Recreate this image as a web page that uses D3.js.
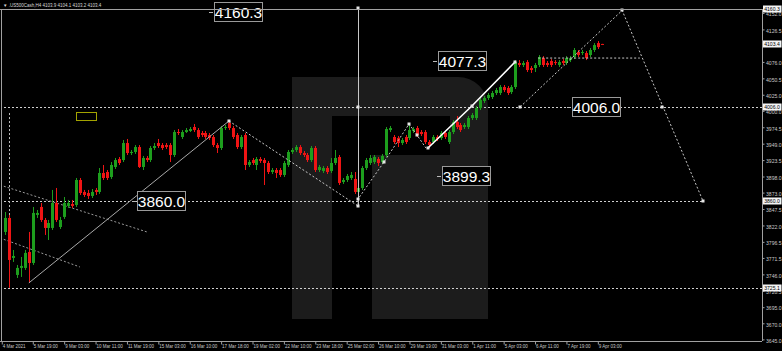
<!DOCTYPE html>
<html><head><meta charset="utf-8">
<script src="https://cdn.jsdelivr.net/npm/d3@7"></script>
<style>html,body{margin:0;padding:0;background:#000;overflow:hidden}</style>
</head><body><svg id="c" width="782" height="351"></svg>
<script>
// ---------- DATA ----------
const opens=[3811.9,3833.6,3771.5,3745.1,3756.0,3756.0,3780.8,3763.7,3838.3,3850.7,
3830.5,3818.1,3818.1,3856.9,3819.6,3835.2,3852.2,3855.3,3853.8,3892.6,
3874.0,3872.4,3867.8,3877.1,3874.0,3903.5,3905.0,3897.3,3912.8,3925.2,
3923.6,3950.0,3934.5,3936.1,3943.8,3912.8,3926.8,3923.6,3942.3,3950.0,
3946.9,3946.9,3946.9,3931.4,3967.1,3959.4,3967.1,3968.7,3974.9,3970.2,
3965.6,3965.6,3962.5,3959.4,3946.9,3942.3,3973.3,3981.1,3973.3,3962.5,
3943.8,3962.5,3915.9,3923.6,3915.9,3925.2,3923.6,3919.0,3905.0,3908.1,
3908.1,3900.4,3915.9,3936.1,3939.2,3943.8,3934.5,3931.4,3923.6,3942.3,
3908.1,3906.6,3911.2,3906.6,3919.0,3928.3,3889.5,3892.6,3895.7,3894.2,
3874.0,3880.2,3911.2,3919.0,3920.5,3925.2,3920.5,3931.4,3970.2,3959.4,
3957.8,3950.0,3959.4,3957.8,3968.7,3973.3,3967.1,3967.1,3951.6,3951.6,
3959.4,3957.8,3965.6,3951.6,3967.1,3982.7,3978.0,3974.9,3974.9,3988.9,
3988.9,4004.4,4015.3,4019.9,4021.5,4027.7,4027.7,4037.0,4035.5,4029.2,
4037.0,4074.3,4071.2,4075.8,4066.5,4066.5,4071.2,4082.0,4074.3,4077.4,
4075.8,4071.2,4077.4,4074.3,4078.9,4083.6,4091.4,4089.8,4089.8,4086.7,
4094.5,4105.3,4103.9];
const closes=[3833.6,3768.4,3774.6,3756.0,3759.1,3779.3,3763.7,3841.4,3841.4,3830.5,
3818.1,3825.8,3856.9,3830.5,3830.5,3856.9,3856.9,3852.2,3892.6,3872.4,
3869.3,3867.8,3874.0,3874.0,3903.5,3895.7,3895.7,3915.9,3923.6,3919.0,
3950.0,3934.5,3936.1,3943.8,3912.8,3926.8,3923.6,3942.3,3945.4,3945.4,
3942.3,3943.8,3931.4,3967.1,3965.6,3967.1,3970.2,3971.8,3970.2,3959.4,
3962.5,3959.4,3957.8,3946.9,3942.3,3973.3,3974.9,3973.3,3959.4,3943.8,
3959.4,3915.9,3920.5,3919.0,3925.2,3922.1,3919.0,3905.0,3908.1,3903.5,
3900.4,3919.0,3936.1,3939.2,3943.8,3934.5,3931.4,3923.6,3942.3,3908.1,
3912.8,3911.2,3905.0,3919.0,3926.8,3888.0,3892.6,3898.8,3900.4,3874.0,
3880.2,3911.2,3923.6,3926.8,3928.3,3919.0,3929.9,3971.8,3973.3,3951.6,
3950.0,3954.7,3951.6,3970.2,3971.8,3962.5,3964.0,3951.6,3946.9,3959.4,
3956.3,3965.6,3959.4,3967.1,3982.7,3974.9,3970.2,3978.0,3988.9,3993.5,
4004.4,4016.8,4019.9,4024.6,4027.7,4032.3,4037.0,4032.3,4027.7,4037.0,
4075.8,4071.2,4074.3,4063.4,4063.4,4071.2,4083.6,4071.2,4071.2,4071.2,
4074.3,4075.8,4074.3,4082.0,4082.0,4094.5,4086.7,4091.4,4082.0,4094.5,
4102.2,4099.1,4103.4];
const highs=[3842.9,3838.3,3783.9,3760.6,3773.0,3783.9,3811.9,3850.7,3846.0,3856.9,
3833.6,3830.5,3877.1,3880.2,3835.2,3866.2,3861.6,3861.6,3895.7,3895.7,
3877.1,3877.1,3878.6,3880.2,3911.2,3915.9,3908.1,3920.5,3926.8,3928.3,
3954.7,3956.3,3939.2,3946.9,3946.9,3929.9,3929.9,3945.4,3950.0,3956.3,
3950.0,3950.0,3950.0,3970.2,3971.8,3970.2,3973.3,3974.9,3979.6,3973.3,
3968.7,3968.7,3965.6,3962.5,3950.0,3976.5,3978.0,3984.2,3976.5,3965.6,
3962.5,3965.6,3923.6,3926.8,3928.3,3928.3,3926.8,3922.1,3911.2,3911.2,
3911.2,3922.1,3939.2,3942.3,3946.9,3946.9,3937.7,3934.5,3945.4,3945.4,
3915.9,3914.3,3914.3,3926.8,3939.2,3931.4,3895.7,3901.9,3905.0,3905.0,
3884.8,3914.3,3926.8,3931.4,3931.4,3928.3,3933.0,3974.9,3976.5,3962.5,
3961.0,3957.8,3962.5,3979.6,3974.9,3976.5,3970.2,3970.2,3954.7,3962.5,
3962.5,3968.7,3968.7,3970.2,3985.8,3992.0,3981.1,3981.1,3992.0,3996.6,
4007.5,4019.9,4023.0,4027.7,4030.8,4035.5,4040.1,4040.1,4038.6,4040.1,
4078.9,4078.9,4077.4,4078.9,4069.6,4074.3,4086.7,4085.1,4077.4,4080.5,
4078.9,4078.9,4080.5,4085.1,4085.1,4097.6,4094.5,4094.5,4092.9,4097.6,
4105.3,4108.4,4104.1];
const lows=[3807.2,3725.1,3765.3,3740.4,3742.0,3752.9,3732.7,3760.6,3833.6,3827.4,
3807.2,3799.4,3815.0,3827.4,3816.5,3832.1,3849.1,3849.1,3850.7,3869.3,
3866.2,3863.1,3864.6,3869.3,3870.9,3892.6,3892.6,3894.2,3909.7,3915.9,
3920.5,3931.4,3931.4,3933.0,3911.2,3908.1,3920.5,3920.5,3939.2,3942.3,
3939.2,3940.7,3920.5,3928.3,3962.5,3956.3,3965.6,3967.1,3967.1,3956.3,
3959.4,3956.3,3954.7,3943.8,3934.5,3939.2,3970.2,3970.2,3956.3,3940.7,
3940.7,3908.1,3912.8,3915.9,3908.1,3919.0,3884.8,3901.9,3901.9,3895.7,
3897.3,3897.3,3912.8,3933.0,3936.1,3931.4,3928.3,3920.5,3920.5,3905.0,
3905.0,3903.5,3901.9,3903.5,3915.9,3884.8,3886.4,3889.5,3892.6,3870.9,
3860.0,3877.1,3908.1,3915.9,3917.4,3914.3,3917.4,3928.3,3967.1,3948.5,
3943.8,3946.9,3948.5,3954.7,3965.6,3959.4,3960.9,3948.5,3942.3,3948.5,
3953.2,3954.7,3956.3,3948.5,3964.0,3971.8,3967.1,3971.8,3971.8,3985.8,
3985.8,4001.3,4012.2,4016.8,4018.4,4024.6,4024.6,4029.2,4024.6,4026.1,
4033.9,4068.1,4068.1,4060.3,4058.8,4060.3,4068.1,4068.1,4068.1,4068.1,
4071.2,4068.1,4071.2,4071.2,4075.8,4080.5,4083.6,4086.7,4078.9,4083.6,
4091.4,4096.0,4103.2];

const timeLabels=["4 Mar 2021","5 Mar 19:00","9 Mar 03:00","10 Mar 11:00","11 Mar 19:00","15 Mar 03:00","16 Mar 10:00","17 Mar 18:00","19 Mar 02:00","22 Mar 10:00","23 Mar 18:00","25 Mar 02:00","26 Mar 10:00","29 Mar 19:00","31 Mar 03:00","1 Apr 11:00","5 Apr 03:00","6 Apr 11:00","7 Apr 19:00","9 Apr 03:00"];
const timeLabelIdx=[-0.9,7,15,23,31,39,47,55,63,71,79,87,95,103,111,119,127,135,143,151];
const priceTicks=[4152.0,4126.5,4076.0,4050.5,4025.0,4000.0,3974.5,3949.0,3923.5,3898.0,3873.0,3847.5,3822.0,3796.5,3771.5,3746.0,3720.5,3695.0,3670.0,3645.0];
const markedPrices=[4160.3,4103.4,4006.0,3860.0,3725.1];
const title="\u25BC .US500Cash,H4  4103.9 4104.1 4103.2 4103.4";

// drawn objects in (bar index, price)
const hLevels=[{p:4006.0,i0:-2,i1:193},{p:3860.0,i0:-2,i1:177.8},{p:3725.1,i0:-2,i1:193}];
const trendSolid=[[6.0,3732.7],[57.0,3984.2]];
const dotA=[[-1.35,3884.8],[36.1,3811.9]];
const dotB=[[-1.35,3802.5],[19.0,3757.5]];
const zigzag=[[57.0,3984.2],[89.9,3852.2],[89.9,3863.1],[96.5,3920.5],[102.9,3979.6],[104.9,3962.5],[107.2,3942.3]];
const whiteLine=[[107.7,3942.3],[118.9,4007.5],[129.9,4075.8]];
const projection=[[131.2,4006.0],[157.2,4156.0],[177.8,3860.0]];
const shortDash=[[135.8,4082.0],[161.7,4082.0]];
const vLine={i:89.9,p0:4160.3,p1:3852.2};
const vDot={i:0.95,p0:3996.6,p1:3725.1};
const markers=[[89.9,4160.3],[89.9,4006.0],[89.9,3852.2],[89.9,3863.1],[57.0,3984.2],[96.5,3920.5],[102.9,3979.6],[104.9,3962.5],[107.7,3942.3],[118.9,4007.5],[129.9,4075.8],[131.2,4006.0],[157.2,4156.0],[167.4,4006.0],[177.8,3860.0]];
const textLabels=[{t:"4160.3",i:53.2,p:4154.3},{t:"4077.3",i:110.3,p:4077.3},{t:"4006.0",i:144.4,p:4006.0},{t:"3899.3",i:111.3,p:3899.3},{t:"3860.0",i:33.6,p:3860.0}];
const yellowBox={i0:18.0,i1:23.1,p0:3998.2,p1:3985.8};

// ---------- DRAW ----------
const W=782,H=351, topY=9, bottomY=341, axisX=762;
const FONT="Liberation Sans, Arial, sans-serif";
const svg=d3.select("#c");
const N=opens.length;
const x=d3.scaleLinear().domain([0,N-1]).range([5.3,5.3+3.924*(N-1)]);
const y=d3.scaleLinear().domain([3642.5,4158.2]).range([bottomY,topY]);

svg.append("rect").attr("width",W).attr("height",H).attr("fill","#000");

// watermark logo
svg.append("path")
 .attr("d","M292,77 H458 A30,30 0 0 1 488,107 V319 H372 V155 H450 V116 H332 V319 H292 Z")
 .attr("fill","#1c1c1c");

svg.append("clipPath").attr("id","pl").append("rect").attr("x",1).attr("y",topY).attr("width",axisX-1).attr("height",bottomY-topY);
const plot=svg.append("g").attr("clip-path","url(#pl)");

// horizontal levels
hLevels.forEach(h=>{
  plot.append("line").attr("x1",Math.max(0,x(h.i0))).attr("x2",Math.min(axisX,x(h.i1)))
   .attr("y1",Math.round(y(h.p))+0.5).attr("y2",Math.round(y(h.p))+0.5)
   .attr("stroke","#cfcfcf").attr("stroke-dasharray","2,2").attr("stroke-width",1);
});
// vertical dotted
plot.append("line").attr("x1",Math.round(x(vDot.i))+0.5).attr("x2",Math.round(x(vDot.i))+0.5)
 .attr("y1",y(vDot.p0)).attr("y2",y(vDot.p1)).attr("stroke","#bdbdbd").attr("stroke-dasharray","2,2");

const line=d3.line().x(d=>x(d[0])).y(d=>y(d[1]));
plot.append("path").attr("d",line(dotA)).attr("fill","none").attr("stroke","#9a9a9a").attr("stroke-dasharray","2,2");
plot.append("path").attr("d",line(dotB)).attr("fill","none").attr("stroke","#9a9a9a").attr("stroke-dasharray","2,2");

// yellow box
svg.append("rect").attr("x",Math.round(x(yellowBox.i0))+0.5).attr("y",Math.round(y(yellowBox.p0))+0.5)
 .attr("width",Math.round(x(yellowBox.i1)-x(yellowBox.i0))).attr("height",Math.round(y(yellowBox.p1)-y(yellowBox.p0)))
 .attr("fill","none").attr("stroke","#a3a300").attr("stroke-width",1);

// candles
const bull="#1d9e1d", bear="#f01414";
const cg=plot.append("g");
for(let i=0;i<N;i++){
  const cx=Math.round(x(i));
  const col=closes[i]>=opens[i]?bull:bear;
  cg.append("line").attr("x1",cx+0.5).attr("x2",cx+0.5).attr("y1",y(highs[i])).attr("y2",y(lows[i])).attr("stroke",col).attr("stroke-width",1);
  const yt=y(Math.max(opens[i],closes[i])), yb=y(Math.min(opens[i],closes[i]));
  cg.append("rect").attr("x",cx-1).attr("y",yt).attr("width",3).attr("height",Math.max(1,yb-yt)).attr("fill",col);
}

// trend lines
plot.append("path").attr("d",line(trendSolid)).attr("fill","none").attr("stroke","#a8a8a8").attr("stroke-width",1);
plot.append("path").attr("d",line(zigzag)).attr("fill","none").attr("stroke","#c8c8c8").attr("stroke-dasharray","2,2");
plot.append("path").attr("d",line(projection)).attr("fill","none").attr("stroke","#c8c8c8").attr("stroke-dasharray","2,2");
plot.append("path").attr("d",line(shortDash)).attr("fill","none").attr("stroke","#c8c8c8").attr("stroke-dasharray","2,2");
plot.append("line").attr("x1",Math.round(x(vLine.i))+0.5).attr("x2",Math.round(x(vLine.i))+0.5)
 .attr("y1",y(vLine.p0)).attr("y2",y(vLine.p1)).attr("stroke","#c8c8c8").attr("stroke-width",1);
plot.append("path").attr("d",line(whiteLine)).attr("fill","none").attr("stroke","#ffffff").attr("stroke-width",1.6);

// markers
svg.append("g").selectAll("rect").data(markers).join("rect")
 .attr("x",d=>Math.round(x(d[0]))-1.5).attr("y",d=>Math.round(y(d[1]))-1.5)
 .attr("width",3).attr("height",3).attr("fill","#e6e6e6");

// text labels
const tl=svg.append("g").selectAll("g").data(textLabels).join("g")
 .attr("transform",d=>`translate(${Math.round(x(d.i))},${Math.round(y(d.p))})`);
tl.append("line").attr("x1",-5).attr("x2",-1).attr("y1",0.5).attr("y2",0.5).attr("stroke","#bbb");
tl.append("rect").attr("x",0.5).attr("y",-9.5).attr("width",48).attr("height",19).attr("fill","#000").attr("stroke","#9a9a9a");
tl.append("text").attr("x",24.5).attr("y",5.5).attr("text-anchor","middle")
 .attr("font-family",FONT).attr("font-size",15.5).attr("fill","#fff").text(d=>d.t);

// frame
svg.append("line").attr("x1",0).attr("x2",axisX).attr("y1",topY+0.5).attr("y2",topY+0.5).attr("stroke","#a0a0a0");
svg.append("line").attr("x1",1.5).attr("x2",1.5).attr("y1",topY).attr("y2",bottomY).attr("stroke","#a0a0a0");
svg.append("line").attr("x1",0).attr("x2",axisX).attr("y1",bottomY+0.5).attr("y2",bottomY+0.5).attr("stroke","#a0a0a0");

// right axis
const ya=svg.append("g").attr("transform",`translate(${axisX+0.5},0)`)
 .call(d3.axisRight(y).tickValues(priceTicks).tickSize(2).tickSizeOuter(0).tickFormat(d3.format(".1f")));
ya.select(".domain").attr("stroke","#a0a0a0").attr("d",`M0,${topY}V${bottomY}`);
ya.selectAll(".tick line").attr("stroke","#a0a0a0");
ya.selectAll(".tick text").attr("x",3.5).attr("dy","0.7em").attr("y",-0.8).attr("fill","#c8c8c8")
 .attr("font-family",FONT).attr("font-size",5.1);
// marked prices on axis
const mp=svg.append("g").selectAll("g").data(markedPrices).join("g")
 .attr("transform",d=>`translate(${axisX+1},${Math.max(topY,Math.round(y(d)))})`);
mp.append("rect").attr("x",0).attr("y",-3.5).attr("width",18.5).attr("height",7).attr("fill","#f4f4f4");
mp.append("text").attr("x",1.2).attr("y",2).attr("font-family",FONT).attr("font-size",5.1).attr("fill","#000").text(d=>d.toFixed(1));

// bottom axis
const xa=svg.append("g").attr("transform",`translate(0,${bottomY+0.5})`)
 .call(d3.axisBottom(x).tickValues(timeLabelIdx).tickSize(3).tickSizeOuter(0).tickFormat((d,i)=>timeLabels[i]));
xa.select(".domain").remove();
xa.selectAll(".tick line").attr("stroke","#a0a0a0");
xa.selectAll(".tick text").attr("text-anchor","start").attr("x",0.5).attr("y",3.5).attr("fill","#c8c8c8")
 .attr("font-family",FONT).attr("font-size",4.5);

// title
svg.append("text").attr("x",3).attr("y",7).attr("font-family",FONT)
 .attr("font-size",4.5).attr("fill","#d8d8d8").text(title);
</script></body></html>
